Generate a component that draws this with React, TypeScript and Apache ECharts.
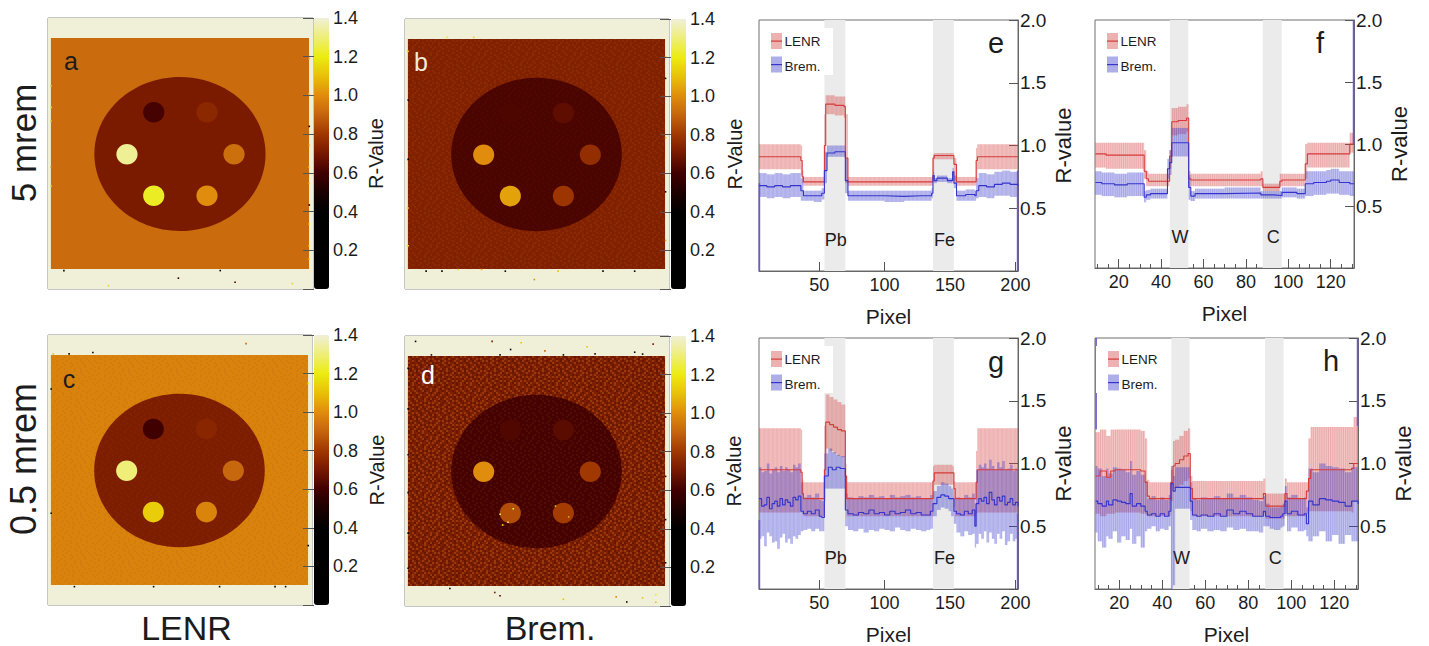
import React, { useEffect, useRef } from "react";
import * as echarts from "echarts";

const FONT = "'Liberation Sans', Arial, sans-serif";
const INK = "#1c1c1c";

// ---------- colour scale of the R-value maps (0 .. 1.4, step 0.1)
const colorScale = ["#000000","#000000","#000000","#000000","#000000","#1c0000","#400000","#761800","#a03800","#c4640e","#e08c0c","#e8c008","#ecec10","#eeee78","#f0f0d8"];

// ---------- map geometry, in percent of the image: centre x, centre y, half width, half height
const mapFrame = [50, 50, 50, 50];
const mapWater = [49.8, 50, 48.7, 42.6];
const mapPhantom = [49.8, 50.2, 32.3, 28.4];
const insertX = [39.9, 60, 29.8, 70.2, 39.9, 60];
const insertY = [34.8, 34.8, 50.3, 50.3, 65.6, 65.6];
const insertRx = 4.0;
const insertRy = 3.8;

// R values: outside, phantom, then the six inserts
const aRegions = [0.92, 0.71, 0.61, 0.75, 1.33, 0.93, 1.22, 1.0];
const bRegions = [0.73, 0.62, 0.625, 0.655, 1.0, 0.77, 1.04, 0.79];
const cRegions = [0.975, 0.72, 0.60, 0.745, 1.3, 0.91, 1.13, 0.98];
const dRegions = [0.72, 0.61, 0.63, 0.65, 1.0, 0.80, 0.85, 0.81];

// hot/cold single pixels [x, y, R]
const aSpecks = [[6,93.2,0.3],[65,93.2,0.3],[49.2,96,0.55],[70.6,97.5,0.6],[22.8,98.8,1.15],[92.2,98,1.15],[1.2,25,1.1],[1.2,33,1.15],[1.2,38,1.1],[1.2,55,1.0],[1.2,62,1.15],[98.6,15,1.1],[98.6,28,1.2],[98.6,40,0.3],[98.6,47,1.1],[98.6,55,1.2],[98.6,61,1.15],[98.6,69,0.45],[98.6,76,1.2],[98.6,84,1.2],[98.6,89,1.15]];
const bSpecks = [[1.2,12,1.1],[1.2,30,0.35],[1.2,52,0.4],[1.2,70,1.1],[1.2,84,1.15],[98.7,14,1.1],[98.7,22,0.4],[98.7,44,1.1],[98.7,64,0.4],[98.7,82,1.05],[26,6.8,1.15],[16,6.8,1.2],[8,93.4,0.3],[14,93.4,0.3],[38,93.4,0.3],[58,93.4,1.1],[75,93.4,0.3],[87,93.4,0.3],[49,96.5,1.0],[20,92.8,1.15],[29,92.8,1.1]];
const cSpecks = [[2,7,1.1],[8,7,0.5],[17,6.5,0.3],[75,3.2,0.9],[1.2,20,0.4],[1.2,66,0.5],[98.6,18,1.2],[98.6,58,1.1],[98.6,78,0.35],[10,93.2,0.4],[40,93.2,0.3],[65,93.2,0.3],[86,93.2,0.4],[90,93.2,0.5]];
const dSpecks = [[4,2,0.3],[33,2,0.7],[40,5,0.4],[44,2.5,1.1],[53,5.5,0.9],[69,4,1.1],[87,6,0.3],[94,3,0.7],[10,7,0.6],[36,7,0.5],[60,7,0.4],[72,6.6,0.6],[90,6.7,0.3],[1.2,12,0.4],[1.2,27,0.3],[1.2,44,0.3],[1.2,58,0.35],[1.2,73,0.3],[1.2,86,0.3],[98.7,14,1.1],[98.7,30,0.35],[98.7,52,0.4],[98.7,68,0.3],[98.7,84,0.35],[17,93.5,0.3],[34,95,0.7],[36,96.2,0.6],[60,97.5,1.1],[80,96.6,1.0],[84,98.5,0.3],[90,97,1.1],[95,95.8,1.2],[95,98.6,1.1],[36,66,1.3],[39,69,1.3],[41,64,1.25],[37,70,1.2],[57,63,1.1],[62,67,1.05]];

// pixel noise of the low-dose maps: + above, - below the local level
const noiseTile = [
  "+..-.+.-..+.-.+..-.+...-",
  ".-.+..-.+-..+..-.+.-.+..",
  "..+.-+..-.+.-.+-..+..-.+",
  "-.+..-.+..-.+..+.-.+-..+",
  ".+.-.+.-+..-.+-.+..-.+.-",
  "+.-.+..-.+.+.-..-.+..-+.",
  ".-+..-.+.-.-+.+.-+.-.+..",
  "-..+-.+..+.-..-+...-+.-+",
  ".+.-..-+.-+.+.-.+-..+..-",
  "+..+.-..+..-.+.-..+-.-+.",
  ".-+.-.+.-.+..-+.+.-.+..-",
  "+.-..+.-+.-.+.-.-.+-..+.",
  ".+.+-.+..-.+..+.-+..-+.-",
  "-.-..+.-+..-+.-..-.+.-.+",
  "..+.-.+.-.+.-.+.+.-..+-.",
  "+-.+..-..+.-+..-.+-.+..-",
  ".-..+-.+-.+..-+.-..+.-+.",
  "+.+.-..+.-.+.-.+-+.-.+.-",
  ".-.+.+-.-.+-.+..-.+.-..+",
  "-.+.-..+.+..-.-+.-.+..-.",
  ".+..-+.-.-+.+.+..+-.-+.+",
  "+.-+..-.+.-.-..-+..+.-.-",
  ".-.+-.+.-.+.+-.+.-.-+.+.",
  "-+..+.-+..-.-.+.-+.+..-+",
];
const noiseCell = 2;
const noiseBright = "224,126,30";
const noiseDark = "42,0,0";

// ---------- line panels
const eTicks = [50,100,150,200];
const fTicks = [20,40,60,80,100,120];
const fMinorTicks = [10,15,25,30,35,45,50,55,65,70,75,85,90,95,105,110,115,125,130];
const yTicksMax = 2;

const eMaterialNames = ["Pb","Fe"];
const eMaterialStart = [54,137];
const eMaterialEnd = [70,153];
const fMaterialNames = ["W","C"];
const fMaterialStart = [44.1,87.9];
const fMaterialEnd = [52.8,96.9];
const hMaterialStart = [44.2,87.8];
const hMaterialEnd = [52.7,96.4];

const eLenrPixels = [4,36,37,38,54,55,62,69,70,72,137,138,152,153,155,170,171,202];
const eLenrMean = [.91,.88,.75,.71,1.0,1.33,1.32,1.31,.9,.71,.9,.92,.92,.85,.71,.88,.91,.91];
const eLenrLow = [.81,.76,.70,.68,.80,1.25,1.24,1.22,.70,.68,.75,.89,.89,.72,.68,.72,.81,.81];
const eLenrHigh = [1.01,1.0,.8,.75,1.25,1.40,1.39,1.39,1.25,.75,.93,.94,.94,.9,.75,.98,1.01,1.01];
const eBremPixels = [4,10,16,22,28,34,36,38,46,52,54,56,62,68,70,72,85,100,115,128,136,137,138,140,148,151,152,153,155,162,169,170,172,178,184,190,196,202];
const eBremMean = [.68,.67,.68,.67,.68,.68,.64,.60,.60,.62,.80,.94,.95,.95,.72,.60,.60,.595,.60,.60,.62,.76,.72,.74,.72,.72,.79,.70,.60,.61,.60,.64,.68,.67,.69,.70,.69,.68];
const eBremLow = [.59,.58,.59,.58,.59,.59,.56,.56,.55,.57,.70,.91,.91,.91,.62,.56,.56,.55,.56,.56,.58,.73,.70,.71,.70,.70,.76,.66,.56,.56,.56,.58,.59,.58,.60,.60,.59,.59];
const eBremHigh = [.78,.77,.78,.77,.78,.78,.74,.64,.64,.66,.95,1.0,1.0,1.0,.90,.64,.64,.64,.64,.64,.66,.79,.74,.76,.74,.74,.82,.76,.64,.65,.64,.74,.78,.77,.79,.80,.79,.78];
const eEdges = [[4.3,0,0.7],[201.7,0,0.8]];

const fLenrPixels = [9,14,32,33,34,44,45,48,52,53,54,87,88,96,97,108,109,128,129,131];
const fLenrMean = [.92,.91,.78,.72,.70,.90,1.18,1.19,1.21,.72,.71,.72,.65,.70,.71,.84,.92,.92,1.0,1.0];
const fLenrLow = [.81,.80,.72,.66,.66,.80,1.07,1.08,1.10,.66,.66,.66,.62,.66,.66,.72,.81,.81,.93,.93];
const fLenrHigh = [1.01,1.01,.95,.78,.76,.95,1.29,1.30,1.32,.78,.76,.78,.68,.76,.76,1.0,1.01,1.01,1.09,1.09];
const fBremPixels = [9,12,18,24,28,32,33,35,43,44,45,49,53,54,56,70,87,93,97,104,108,112,118,120,124,129,131];
const fBremMean = [.69,.68,.67,.68,.68,.57,.59,.60,.80,.85,1.01,1.01,.65,.58,.60,.605,.59,.585,.61,.60,.68,.69,.70,.71,.69,.68,.68];
const fBremLow = [.59,.58,.57,.58,.58,.53,.55,.56,.72,.75,.90,.90,.55,.54,.56,.56,.56,.56,.57,.56,.58,.59,.60,.60,.59,.58,.58];
const fBremHigh = [.78,.77,.76,.77,.77,.62,.63,.64,.88,.95,1.13,1.13,.75,.62,.64,.65,.62,.62,.65,.64,.78,.78,.79,.80,.78,.78,.78];
const fEdges = [[130.8,1.0,2.0]];

const gLenrPixels = [4,36,37,38,54,55,58,61,64,67,70,71,137,138,152,153,154,170,171,202];
const gLenrMean = [.95,.93,.76,.72,.95,1.33,1.31,1.29,1.27,1.26,.9,.72,.86,.925,.925,.8,.72,.85,.95,.95];
const gLenrLow = [.61,.62,.60,.58,.70,1.12,1.10,1.08,1.06,1.05,.65,.58,.72,.83,.83,.65,.58,.60,.61,.61];
const gLenrHigh = [1.28,1.27,.87,.85,1.3,1.55,1.53,1.51,1.49,1.47,1.0,.85,.98,.99,.98,.86,.85,1.1,1.28,1.28];
const gBremPixels = [4,6,8,10,12,14,16,18,20,22,24,26,28,30,32,34,36,38,41,44,47,50,52,54,57,60,63,66,70,72,76,80,84,88,92,96,100,104,108,112,116,120,124,128,132,135,137,140,143,146,149,151,153,155,158,161,164,167,169,170,172,174,176,178,180,182,184,186,188,190,192,194,196,198,200,202];
const gBremMean = [.72,.66,.67,.73,.64,.68,.70,.66,.72,.67,.71,.69,.66,.73,.71,.74,.62,.60,.62,.60,.63,.58,.57,.90,.97,.95,.97,.96,.63,.60,.59,.61,.60,.63,.60,.61,.59,.62,.60,.61,.63,.60,.61,.59,.59,.62,.68,.73,.75,.74,.72,.72,.62,.60,.59,.62,.60,.63,.50,.68,.72,.70,.73,.68,.77,.71,.67,.73,.70,.74,.67,.69,.72,.67,.69,.66];
const gBremLow = [.40,.42,.34,.45,.42,.37,.38,.32,.41,.44,.37,.40,.36,.42,.40,.43,.46,.47,.48,.46,.48,.46,.46,.80,.80,.80,.80,.80,.50,.47,.46,.48,.45,.47,.46,.48,.47,.46,.49,.47,.46,.48,.47,.46,.47,.48,.58,.63,.65,.64,.62,.58,.52,.45,.42,.46,.43,.44,.33,.36,.44,.40,.46,.37,.45,.40,.36,.44,.40,.46,.35,.38,.44,.38,.40,.36];
const gBremHigh = [.97,.93,.94,1.0,.92,.95,.97,.93,.98,.94,.97,.95,.93,.99,.97,1.0,.85,.73,.75,.73,.76,.71,.70,1.08,1.12,1.09,1.07,1.06,.76,.73,.72,.74,.73,.75,.73,.74,.72,.75,.73,.74,.75,.73,.74,.72,.72,.75,.78,.82,.85,.84,.82,.80,.72,.73,.72,.75,.73,.76,.68,.95,.99,.97,1.0,.96,1.03,.98,.95,1.01,.97,1.02,.95,.96,.99,.94,.96,.93];
const gEdges = [[4.3,0,0.55],[201.7,0,0.6]];

const hLenrPixels = [9,11,14,16,18,30,32,33,34,44,45,46,48,50,52,53,54,87,88,96,97,98,107,108,109,128,129,131];
const hLenrMean = [.90,.94,.89,.94,.95,.94,.85,.74,.72,.85,.98,1.0,1.03,1.06,1.08,.80,.72,.76,.66,.66,.76,.72,.78,.88,.95,.96,1.0,1.0];
const hLenrLow = [.60,.58,.60,.60,.61,.60,.60,.58,.58,.70,.80,.81,.83,.86,.88,.62,.58,.60,.56,.56,.60,.58,.60,.62,.62,.61,.70,.70];
const hLenrHigh = [1.25,1.27,1.22,1.27,1.27,1.26,1.2,.87,.85,.95,1.18,1.19,1.22,1.26,1.28,.9,.86,.88,.76,.76,.88,.85,.85,1.2,1.29,1.29,1.37,1.37];
const hBremPixels = [9,10,12,14,15,17,19,21,23,25,26,28,30,32,33,35,37,39,41,43,44,45,46,49,53,54,56,58,61,64,67,70,73,76,79,82,85,87,88,90,92,95,96,97,98,100,103,106,107,108,110,113,116,119,122,125,128,131];
const hBremMean = [.70,.68,.66,.70,.67,.71,.70,.69,.68,.76,.66,.68,.66,.62,.59,.60,.58,.60,.58,.62,.84,.78,.81,.81,.70,.59,.58,.59,.58,.60,.58,.63,.60,.62,.60,.58,.58,.62,.58,.57,.57,.58,.60,.70,.60,.62,.59,.60,.52,.70,.67,.72,.71,.70,.69,.66,.70,.68];
const hBremLow = [.45,.38,.33,.42,.40,.46,.37,.42,.39,.48,.36,.42,.33,.46,.48,.50,.46,.48,.47,.50,0,.03,.64,.64,.55,.47,.46,.48,.46,.47,.46,.49,.47,.48,.46,.46,.45,.50,.50,.48,.47,.49,.50,.58,.46,.49,.46,.47,.42,.38,.42,.46,.38,.43,.36,.43,.38,.40];
const hBremHigh = [.98,.96,.90,.96,.92,.97,.96,.95,.93,1.02,.91,.94,.91,.86,.72,.74,.71,.73,.71,.75,.98,.90,.97,.97,.85,.72,.71,.73,.72,.74,.72,.76,.73,.75,.73,.71,.70,.74,.68,.65,.65,.66,.68,.82,.73,.75,.72,.73,.65,.96,.93,1.0,.98,.97,.96,.93,.97,.95];
const hEdges = [[9.2,1.27,2.0],[130.8,1.3,2.0]];

const RED = "#d63a3a";
const BLUE = "#3434cc";
const RED_FILL = "rgba(214,70,70,0.30)";
const RED_STRIPE = "rgba(214,70,70,0.22)";
const BLUE_FILL = "rgba(60,60,205,0.30)";
const BLUE_STRIPE = "rgba(60,60,205,0.22)";
const RED_SWATCH = "rgba(214,70,70,0.42)";
const BLUE_SWATCH = "rgba(60,60,205,0.42)";

const mapPanels = [
  { letter: "a", letterFill: INK, regions: aRegions, specks: aSpecks, outerNoise: 0, innerNoise: 0, left: 48, top: 18, w: 265, h: 271, barLeft: 314, barW: 15, nameGap: 37, lx: 71, ly: 61 },
  { letter: "b", letterFill: "#f6ead8", regions: bRegions, specks: bSpecks, outerNoise: 0.07, innerNoise: 0.02, left: 405, top: 19, w: 264, h: 270, barLeft: 671, barW: 15, nameGap: 39, lx: 421, ly: 62 },
  { letter: "c", letterFill: INK, regions: cRegions, specks: cSpecks, outerNoise: 0.04, innerNoise: 0.03, left: 48, top: 335, w: 264, h: 270, barLeft: 314, barW: 15, nameGap: 38, lx: 69, ly: 379 },
  { letter: "d", letterFill: "#ffffff", regions: dRegions, specks: dSpecks, outerNoise: 0.28, innerNoise: 0.07, left: 405, top: 336, w: 264, h: 270, barLeft: 671, barW: 15, nameGap: 38, lx: 428, ly: 375 },
];

const linePanels = [
  { letter: "e", left: 759, top: 20, w: 259, h: 251, xMin: 4, xMax: 202, ticks: eTicks, minor: [], names: eMaterialNames, start: eMaterialStart, end: eMaterialEnd,
    lp: eLenrPixels, lm: eLenrMean, ll: eLenrLow, lh: eLenrHigh, bp: eBremPixels, bm: eBremMean, bl: eBremLow, bh: eBremHigh, edges: eEdges, lx: 996, ly: 43, swatchX: 771, swatchY: 33 },
  { letter: "f", left: 1095, top: 20, w: 259, h: 248, xMin: 8.8, xMax: 131, ticks: fTicks, minor: fMinorTicks, names: fMaterialNames, start: fMaterialStart, end: fMaterialEnd,
    lp: fLenrPixels, lm: fLenrMean, ll: fLenrLow, lh: fLenrHigh, bp: fBremPixels, bm: fBremMean, bl: fBremLow, bh: fBremHigh, edges: fEdges, lx: 1320, ly: 43, swatchX: 1107, swatchY: 33 },
  { letter: "g", left: 759, top: 338, w: 259, h: 251, xMin: 4, xMax: 202, ticks: eTicks, minor: [], names: eMaterialNames, start: eMaterialStart, end: eMaterialEnd,
    lp: gLenrPixels, lm: gLenrMean, ll: gLenrLow, lh: gLenrHigh, bp: gBremPixels, bm: gBremMean, bl: gBremLow, bh: gBremHigh, edges: gEdges, lx: 996, ly: 362, swatchX: 771, swatchY: 351 },
  { letter: "h", left: 1095, top: 338, w: 263, h: 251, xMin: 8.7, xMax: 131, ticks: fTicks, minor: fMinorTicks, names: fMaterialNames, start: hMaterialStart, end: hMaterialEnd,
    lp: hLenrPixels, lm: hLenrMean, ll: hLenrLow, lh: hLenrHigh, bp: hBremPixels, bm: hBremMean, bl: hBremLow, bh: hBremHigh, edges: hEdges, lx: 1331, ly: 361, swatchX: 1108, swatchY: 351 },
];

function noisePattern(strength: number) {
  const size = noiseTile.length * noiseCell;
  const canvas = document.createElement("canvas");
  canvas.width = size;
  canvas.height = size;
  const ctx = canvas.getContext("2d")!;
  noiseTile.forEach((row, j) => {
    row.split("").forEach((ch, i) => {
      if (ch === ".") return;
      ctx.fillStyle = `rgba(${ch === "+" ? noiseBright : noiseDark},${strength})`;
      ctx.fillRect(i * noiseCell, j * noiseCell, noiseCell, noiseCell);
    });
  });
  return { image: canvas, repeat: "repeat" };
}

// last column: 0 rectangle, 1 ellipse, 2 noisy rectangle, 3 noisy ellipse
function mapData(p: any) {
  const rows: number[][] = [];
  rows.push([...mapFrame, 1.4, 0]);
  rows.push([...mapWater, p.regions[0], 0]);
  if (p.outerNoise) rows.push([...mapWater, p.regions[0], 2]);
  rows.push([...mapPhantom, p.regions[1], 1]);
  if (p.innerNoise) rows.push([...mapPhantom, p.regions[1], 3]);
  insertX.forEach((x, i) => rows.push([x, insertY[i], insertRx, insertRy, p.regions[i + 2], 1]));
  p.specks.forEach((s: number[]) => rows.push([s[0], s[1], 0.3, 0.3, s[2], 0]));
  return rows;
}

function renderMapShape(outer: any, inner: any) {
  return (_: any, api: any) => {
    const c = api.coord([api.value(0), api.value(1)]);
    const s = api.size([api.value(2), api.value(3)]);
    const kind = api.value(5);
    const fill = kind === 2 ? outer : kind === 3 ? inner : api.visual("color");
    if (kind === 1 || kind === 3) return { type: "ellipse", shape: { cx: c[0], cy: c[1], rx: s[0], ry: s[1] }, style: { fill } };
    return { type: "rect", shape: { x: c[0] - s[0], y: c[1] - s[1], width: 2 * s[0], height: 2 * s[1] }, style: { fill } };
  };
}

function bandRows(px: number[], lo: number[], hi: number[]) {
  const rows: number[][] = [];
  for (let i = 0; i < px.length - 1; i++) rows.push([px[i], px[i + 1], lo[i], hi[i]]);
  return rows;
}

function renderBand(fill: string, stripe: string) {
  return (_: any, api: any) => {
    const x0 = api.value(0), x1 = api.value(1), lo = api.value(2), hi = api.value(3);
    const a = api.coord([x0, hi]);
    const b = api.coord([x1, lo]);
    const children: any[] = [{ type: "rect", shape: { x: a[0], y: a[1], width: b[0] - a[0], height: b[1] - a[1] }, style: { fill } }];
    for (let k = Math.ceil(x0); k < x1; k++) {
      const s = api.coord([k, hi]);
      const e = api.coord([k + 0.5, lo]);
      children.push({ type: "rect", shape: { x: s[0], y: s[1], width: e[0] - s[0], height: e[1] - s[1] }, style: { fill: stripe } });
    }
    return { type: "group", children };
  };
}

function buildOption() {
  const grid: any[] = [], xAxis: any[] = [], yAxis: any[] = [], series: any[] = [], visualMap: any[] = [], graphic: any[] = [];

  const text = (t: string, x: number, y: number, size: number, fill = INK, rotation = 0, align = "center") =>
    graphic.push({ type: "text", x, y, rotation, z: 100, style: { text: t, font: `${size}px ${FONT}`, fill, textAlign: align, textVerticalAlign: "middle" } });

  const axisCommon = { axisLine: { lineStyle: { color: "#666" } }, splitLine: { show: false } };

  mapPanels.forEach((p, i) => {
    grid.push({ left: p.left, top: p.top, width: p.w, height: p.h, show: true, borderColor: "#8c8c8c", borderWidth: 1, backgroundColor: "transparent" });
    xAxis.push({ type: "value", gridIndex: grid.length - 1, min: 0, max: 100, show: false });
    yAxis.push({ type: "value", gridIndex: grid.length - 1, min: 0, max: 100, inverse: true, show: false });
    series.push({ type: "custom", name: "map " + p.letter, xAxisIndex: xAxis.length - 1, yAxisIndex: yAxis.length - 1, coordinateSystem: "cartesian2d",
      encode: { x: 0, y: 1 }, data: mapData(p), renderItem: renderMapShape(noisePattern(p.outerNoise), noisePattern(p.innerNoise)), silent: true });
    visualMap.push({ type: "continuous", min: 0, max: 1.4, seriesIndex: i, dimension: 4, left: p.barLeft, top: p.top, itemWidth: p.barW, itemHeight: p.h,
      inRange: { color: colorScale }, calculable: false, padding: 0, hoverLink: false, z: 1, show: true });
    grid.push({ left: p.barLeft, top: p.top, width: p.barW, height: p.h, show: false });
    xAxis.push({ type: "value", gridIndex: grid.length - 1, min: 0, max: 1, show: false });
    yAxis.push({ type: "value", gridIndex: grid.length - 1, min: 0, max: 1.4, interval: 0.2, position: "right", z: 6,
      name: "R-Value", nameLocation: "middle", nameRotate: 90, nameGap: p.nameGap, nameTextStyle: { fontSize: 20, color: INK, fontFamily: FONT },
      axisLine: { show: false }, splitLine: { show: false },
      axisTick: { show: true, inside: true, length: 11, lineStyle: { color: "#555" } },
      axisLabel: { margin: 4, fontSize: 18, color: INK, fontFamily: FONT, formatter: (v: number) => (v === 0 ? "" : v.toFixed(1)) } });
    text(p.letter, p.lx, p.ly, 25, p.letterFill);
  });

  linePanels.forEach((p) => {
    grid.push({ left: p.left, top: p.top, width: p.w, height: p.h, show: true, borderColor: "#6e6e6e", borderWidth: 1, backgroundColor: "transparent" });
    const g = grid.length - 1;
    xAxis.push({ type: "value", gridIndex: g, min: p.xMin, max: p.xMax, position: "bottom", name: "Pixel", nameLocation: "middle", nameGap: 35,
      nameTextStyle: { fontSize: 21, color: INK, fontFamily: FONT }, ...axisCommon,
      axisTick: { show: true, inside: true, length: 9, customValues: p.ticks, lineStyle: { color: "#555" } },
      axisLabel: { show: true, margin: 5, fontSize: 18, color: INK, fontFamily: FONT, customValues: p.ticks } });
    const xi = xAxis.length - 1;
    yAxis.push({ type: "value", gridIndex: g, min: 0, max: yTicksMax, interval: 0.5, position: "right", name: "R-value", nameLocation: "middle", nameRotate: 90, nameGap: 34,
      nameTextStyle: { fontSize: 22, color: INK, fontFamily: FONT }, ...axisCommon,
      axisTick: { show: true, inside: true, length: 9, lineStyle: { color: "#555" } },
      axisLabel: { margin: 2, fontSize: 19, color: INK, fontFamily: FONT, formatter: (v: number) => (v === 0 ? "" : v.toFixed(1)) } });
    const yi = yAxis.length - 1;
    if (p.minor.length) {
      xAxis.push({ type: "value", gridIndex: g, min: p.xMin, max: p.xMax, position: "bottom", axisLine: { show: false }, splitLine: { show: false }, axisLabel: { show: false },
        axisTick: { show: true, inside: true, length: 4, customValues: p.minor, lineStyle: { color: "#555" } } });
    }
    const common = { xAxisIndex: xi, yAxisIndex: yi, coordinateSystem: "cartesian2d", silent: true };
    const names = p.names;
    series.push({ ...common, type: "custom", name: "materials " + p.letter, z: 1, encode: { x: [0, 1] }, data: p.start.map((s, i) => [s, p.end[i]]),
      renderItem: (params: any, api: any) => {
        const a = api.coord([api.value(0), yTicksMax]);
        const b = api.coord([api.value(1), 0]);
        const t = api.coord([(api.value(0) + api.value(1)) / 2, 0.25]);
        return { type: "group", children: [
          { type: "rect", shape: { x: a[0], y: a[1], width: b[0] - a[0], height: b[1] - a[1] }, style: { fill: "#ebebeb" } },
          { type: "text", style: { x: t[0] + 1, y: t[1], text: names[params.dataIndex], font: `18px ${FONT}`, fill: INK, textAlign: "center", textVerticalAlign: "middle" } },
        ] };
      } });
    series.push({ ...common, type: "custom", name: "LENR error " + p.letter, z: 2, encode: { x: [0, 1], y: [2, 3] }, data: bandRows(p.lp, p.ll, p.lh), renderItem: renderBand(RED_FILL, RED_STRIPE) });
    series.push({ ...common, type: "custom", name: "Brem. error " + p.letter, z: 3, encode: { x: [0, 1], y: [2, 3] }, data: bandRows(p.bp, p.bl, p.bh), renderItem: renderBand(BLUE_FILL, BLUE_STRIPE) });
    series.push({ ...common, type: "custom", name: "edge bins " + p.letter, z: 4, encode: { x: 0, y: [1, 2] }, data: p.edges,
      renderItem: (_: any, api: any) => {
        const a = api.coord([api.value(0), api.value(2)]);
        const b = api.coord([api.value(0), api.value(1)]);
        return { type: "rect", shape: { x: a[0] - 0.8, y: a[1], width: 1.6, height: b[1] - a[1] }, style: { fill: "#6f58c8" } };
      } });
    series.push({ ...common, type: "line", name: "LENR " + p.letter, z: 5, step: "end", showSymbol: false, lineStyle: { color: RED, width: 1.1 }, data: p.lp.map((x, i) => [x, p.lm[i]]) });
    series.push({ ...common, type: "line", name: "Brem. " + p.letter, z: 6, step: "end", showSymbol: false, lineStyle: { color: BLUE, width: 1.1 }, data: p.bp.map((x, i) => [x, p.bm[i]]) });

    const sx = p.swatchX, sy = p.swatchY;
    graphic.push({ type: "rect", z: 90, shape: { x: p.left + 1, y: sy - 5, width: sx + 62 - p.left - 1, height: 47 }, style: { fill: "#ffffff" } });
    [[RED_SWATCH, RED, "LENR"], [BLUE_SWATCH, BLUE, "Brem."]].forEach((e, k) => {
      const y0 = sy + k * 23.5;
      graphic.push({ type: "rect", z: 95, shape: { x: sx, y: y0, width: 11, height: 16 }, style: { fill: e[0] } });
      graphic.push({ type: "rect", z: 96, shape: { x: sx, y: y0 + 7.5, width: 11, height: 1.2 }, style: { fill: e[1] } });
      text(e[2], sx + 13.5, y0 + 8 + k * 1.5, 13.5, INK, 0, "left");
    });
    text(p.letter, p.lx, p.ly, 29);
  });

  text("5 mrem", 23, 143, 35, INK, Math.PI / 2);
  text("0.5 mrem", 23, 459, 36, INK, Math.PI / 2);
  text("LENR", 186.5, 628, 34);
  text("Brem.", 550, 628, 34);

  return { animation: false, backgroundColor: "#ffffff", textStyle: { fontFamily: FONT }, tooltip: { show: false }, grid, xAxis, yAxis, series, visualMap, graphic: { elements: graphic } };
}

export default function App() {
  const ref = useRef<HTMLDivElement>(null);
  useEffect(() => {
    document.body.style.margin = "0";
    const chart = echarts.init(ref.current!, undefined, { renderer: "svg" });
    chart.setOption(buildOption() as any);
    return () => chart.dispose();
  }, []);
  return <div ref={ref} style={{ position: "fixed", left: 0, top: 0, width: 1429, height: 646, background: "#fff" }} />;
}
